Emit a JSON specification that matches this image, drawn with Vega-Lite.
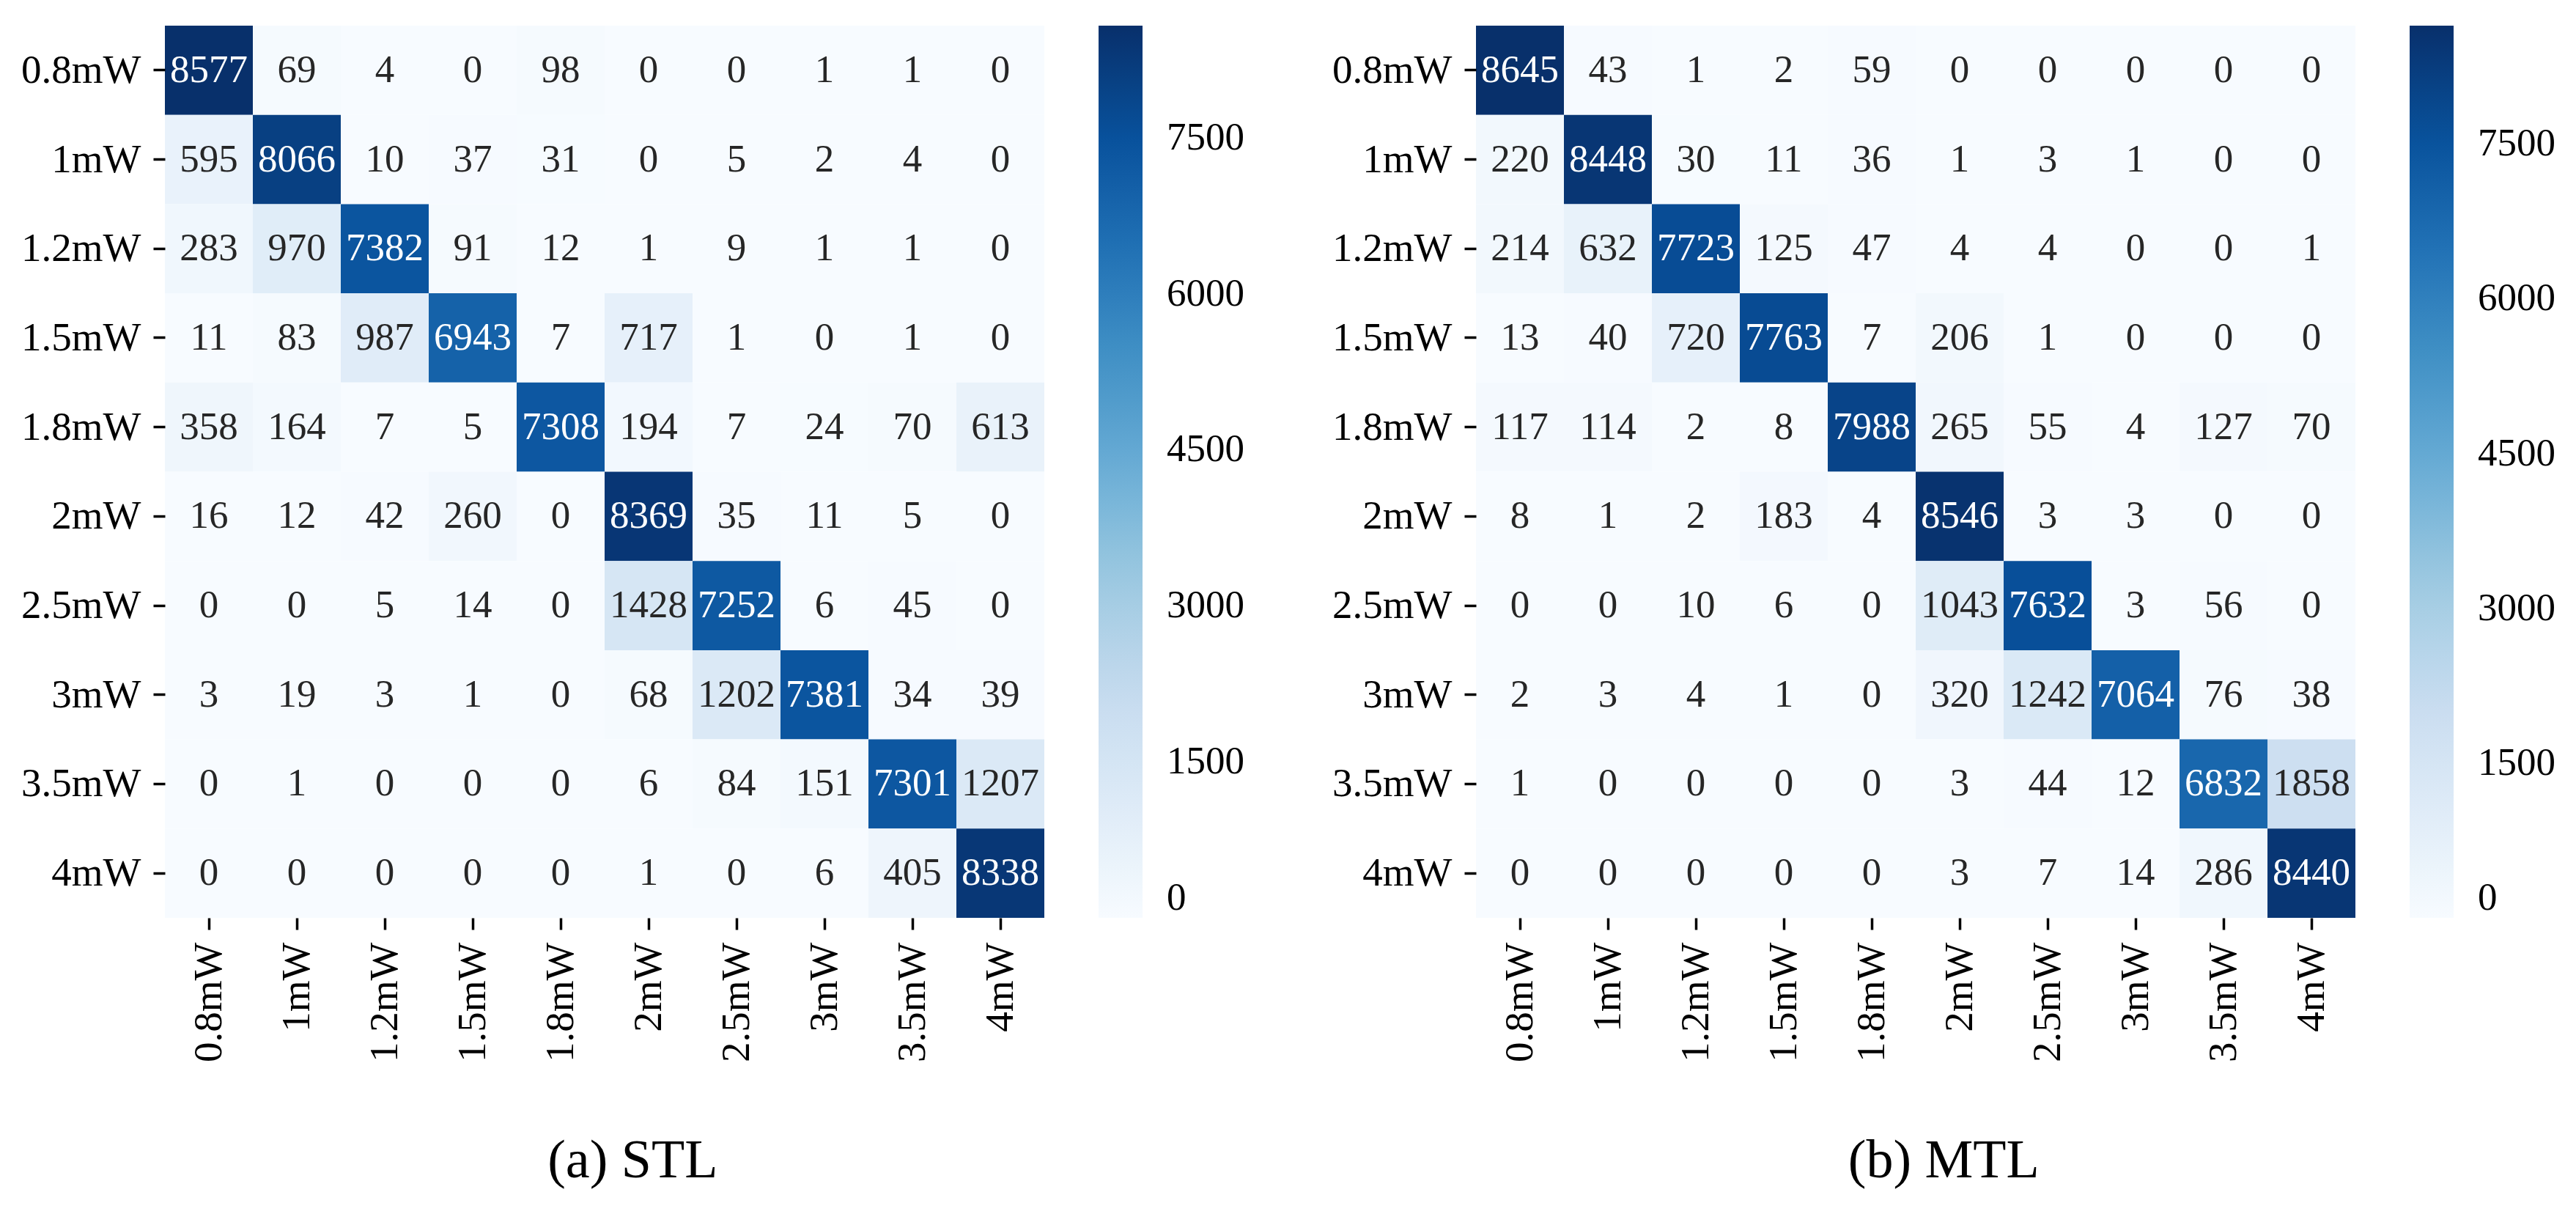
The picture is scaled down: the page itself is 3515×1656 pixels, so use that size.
{
  "$schema": "https://vega.github.io/schema/vega-lite/v6.json",
  "background": "white",
  "padding": {"left": 28, "top": 35, "right": 0, "bottom": 0},
  "autosize": {"type": "pad"},
  "spacing": 119,
  "resolve": {"scale": {"color": "independent"}},
  "config": {
    "view": {"stroke": null},
    "font": "Liberation Serif",
    "axis": {"labelFont": "Liberation Serif", "labelFontSize": 55, "labelColor": "black", "tickColor": "black", "tickSize": 16, "tickWidth": 3.5, "domain": false, "grid": false, "labelPadding": 17, "title": null},
    "legend": {"padding": 0}
  },
  "datasets": {
    "stl": [
      {"t":"0.8mW","p":"0.8mW","v":8577},{"t":"0.8mW","p":"1mW","v":69},{"t":"0.8mW","p":"1.2mW","v":4},{"t":"0.8mW","p":"1.5mW","v":0},{"t":"0.8mW","p":"1.8mW","v":98},{"t":"0.8mW","p":"2mW","v":0},{"t":"0.8mW","p":"2.5mW","v":0},{"t":"0.8mW","p":"3mW","v":1},{"t":"0.8mW","p":"3.5mW","v":1},{"t":"0.8mW","p":"4mW","v":0},
      {"t":"1mW","p":"0.8mW","v":595},{"t":"1mW","p":"1mW","v":8066},{"t":"1mW","p":"1.2mW","v":10},{"t":"1mW","p":"1.5mW","v":37},{"t":"1mW","p":"1.8mW","v":31},{"t":"1mW","p":"2mW","v":0},{"t":"1mW","p":"2.5mW","v":5},{"t":"1mW","p":"3mW","v":2},{"t":"1mW","p":"3.5mW","v":4},{"t":"1mW","p":"4mW","v":0},
      {"t":"1.2mW","p":"0.8mW","v":283},{"t":"1.2mW","p":"1mW","v":970},{"t":"1.2mW","p":"1.2mW","v":7382},{"t":"1.2mW","p":"1.5mW","v":91},{"t":"1.2mW","p":"1.8mW","v":12},{"t":"1.2mW","p":"2mW","v":1},{"t":"1.2mW","p":"2.5mW","v":9},{"t":"1.2mW","p":"3mW","v":1},{"t":"1.2mW","p":"3.5mW","v":1},{"t":"1.2mW","p":"4mW","v":0},
      {"t":"1.5mW","p":"0.8mW","v":11},{"t":"1.5mW","p":"1mW","v":83},{"t":"1.5mW","p":"1.2mW","v":987},{"t":"1.5mW","p":"1.5mW","v":6943},{"t":"1.5mW","p":"1.8mW","v":7},{"t":"1.5mW","p":"2mW","v":717},{"t":"1.5mW","p":"2.5mW","v":1},{"t":"1.5mW","p":"3mW","v":0},{"t":"1.5mW","p":"3.5mW","v":1},{"t":"1.5mW","p":"4mW","v":0},
      {"t":"1.8mW","p":"0.8mW","v":358},{"t":"1.8mW","p":"1mW","v":164},{"t":"1.8mW","p":"1.2mW","v":7},{"t":"1.8mW","p":"1.5mW","v":5},{"t":"1.8mW","p":"1.8mW","v":7308},{"t":"1.8mW","p":"2mW","v":194},{"t":"1.8mW","p":"2.5mW","v":7},{"t":"1.8mW","p":"3mW","v":24},{"t":"1.8mW","p":"3.5mW","v":70},{"t":"1.8mW","p":"4mW","v":613},
      {"t":"2mW","p":"0.8mW","v":16},{"t":"2mW","p":"1mW","v":12},{"t":"2mW","p":"1.2mW","v":42},{"t":"2mW","p":"1.5mW","v":260},{"t":"2mW","p":"1.8mW","v":0},{"t":"2mW","p":"2mW","v":8369},{"t":"2mW","p":"2.5mW","v":35},{"t":"2mW","p":"3mW","v":11},{"t":"2mW","p":"3.5mW","v":5},{"t":"2mW","p":"4mW","v":0},
      {"t":"2.5mW","p":"0.8mW","v":0},{"t":"2.5mW","p":"1mW","v":0},{"t":"2.5mW","p":"1.2mW","v":5},{"t":"2.5mW","p":"1.5mW","v":14},{"t":"2.5mW","p":"1.8mW","v":0},{"t":"2.5mW","p":"2mW","v":1428},{"t":"2.5mW","p":"2.5mW","v":7252},{"t":"2.5mW","p":"3mW","v":6},{"t":"2.5mW","p":"3.5mW","v":45},{"t":"2.5mW","p":"4mW","v":0},
      {"t":"3mW","p":"0.8mW","v":3},{"t":"3mW","p":"1mW","v":19},{"t":"3mW","p":"1.2mW","v":3},{"t":"3mW","p":"1.5mW","v":1},{"t":"3mW","p":"1.8mW","v":0},{"t":"3mW","p":"2mW","v":68},{"t":"3mW","p":"2.5mW","v":1202},{"t":"3mW","p":"3mW","v":7381},{"t":"3mW","p":"3.5mW","v":34},{"t":"3mW","p":"4mW","v":39},
      {"t":"3.5mW","p":"0.8mW","v":0},{"t":"3.5mW","p":"1mW","v":1},{"t":"3.5mW","p":"1.2mW","v":0},{"t":"3.5mW","p":"1.5mW","v":0},{"t":"3.5mW","p":"1.8mW","v":0},{"t":"3.5mW","p":"2mW","v":6},{"t":"3.5mW","p":"2.5mW","v":84},{"t":"3.5mW","p":"3mW","v":151},{"t":"3.5mW","p":"3.5mW","v":7301},{"t":"3.5mW","p":"4mW","v":1207},
      {"t":"4mW","p":"0.8mW","v":0},{"t":"4mW","p":"1mW","v":0},{"t":"4mW","p":"1.2mW","v":0},{"t":"4mW","p":"1.5mW","v":0},{"t":"4mW","p":"1.8mW","v":0},{"t":"4mW","p":"2mW","v":1},{"t":"4mW","p":"2.5mW","v":0},{"t":"4mW","p":"3mW","v":6},{"t":"4mW","p":"3.5mW","v":405},{"t":"4mW","p":"4mW","v":8338}
    ],
    "mtl": [
      {"t":"0.8mW","p":"0.8mW","v":8645},{"t":"0.8mW","p":"1mW","v":43},{"t":"0.8mW","p":"1.2mW","v":1},{"t":"0.8mW","p":"1.5mW","v":2},{"t":"0.8mW","p":"1.8mW","v":59},{"t":"0.8mW","p":"2mW","v":0},{"t":"0.8mW","p":"2.5mW","v":0},{"t":"0.8mW","p":"3mW","v":0},{"t":"0.8mW","p":"3.5mW","v":0},{"t":"0.8mW","p":"4mW","v":0},
      {"t":"1mW","p":"0.8mW","v":220},{"t":"1mW","p":"1mW","v":8448},{"t":"1mW","p":"1.2mW","v":30},{"t":"1mW","p":"1.5mW","v":11},{"t":"1mW","p":"1.8mW","v":36},{"t":"1mW","p":"2mW","v":1},{"t":"1mW","p":"2.5mW","v":3},{"t":"1mW","p":"3mW","v":1},{"t":"1mW","p":"3.5mW","v":0},{"t":"1mW","p":"4mW","v":0},
      {"t":"1.2mW","p":"0.8mW","v":214},{"t":"1.2mW","p":"1mW","v":632},{"t":"1.2mW","p":"1.2mW","v":7723},{"t":"1.2mW","p":"1.5mW","v":125},{"t":"1.2mW","p":"1.8mW","v":47},{"t":"1.2mW","p":"2mW","v":4},{"t":"1.2mW","p":"2.5mW","v":4},{"t":"1.2mW","p":"3mW","v":0},{"t":"1.2mW","p":"3.5mW","v":0},{"t":"1.2mW","p":"4mW","v":1},
      {"t":"1.5mW","p":"0.8mW","v":13},{"t":"1.5mW","p":"1mW","v":40},{"t":"1.5mW","p":"1.2mW","v":720},{"t":"1.5mW","p":"1.5mW","v":7763},{"t":"1.5mW","p":"1.8mW","v":7},{"t":"1.5mW","p":"2mW","v":206},{"t":"1.5mW","p":"2.5mW","v":1},{"t":"1.5mW","p":"3mW","v":0},{"t":"1.5mW","p":"3.5mW","v":0},{"t":"1.5mW","p":"4mW","v":0},
      {"t":"1.8mW","p":"0.8mW","v":117},{"t":"1.8mW","p":"1mW","v":114},{"t":"1.8mW","p":"1.2mW","v":2},{"t":"1.8mW","p":"1.5mW","v":8},{"t":"1.8mW","p":"1.8mW","v":7988},{"t":"1.8mW","p":"2mW","v":265},{"t":"1.8mW","p":"2.5mW","v":55},{"t":"1.8mW","p":"3mW","v":4},{"t":"1.8mW","p":"3.5mW","v":127},{"t":"1.8mW","p":"4mW","v":70},
      {"t":"2mW","p":"0.8mW","v":8},{"t":"2mW","p":"1mW","v":1},{"t":"2mW","p":"1.2mW","v":2},{"t":"2mW","p":"1.5mW","v":183},{"t":"2mW","p":"1.8mW","v":4},{"t":"2mW","p":"2mW","v":8546},{"t":"2mW","p":"2.5mW","v":3},{"t":"2mW","p":"3mW","v":3},{"t":"2mW","p":"3.5mW","v":0},{"t":"2mW","p":"4mW","v":0},
      {"t":"2.5mW","p":"0.8mW","v":0},{"t":"2.5mW","p":"1mW","v":0},{"t":"2.5mW","p":"1.2mW","v":10},{"t":"2.5mW","p":"1.5mW","v":6},{"t":"2.5mW","p":"1.8mW","v":0},{"t":"2.5mW","p":"2mW","v":1043},{"t":"2.5mW","p":"2.5mW","v":7632},{"t":"2.5mW","p":"3mW","v":3},{"t":"2.5mW","p":"3.5mW","v":56},{"t":"2.5mW","p":"4mW","v":0},
      {"t":"3mW","p":"0.8mW","v":2},{"t":"3mW","p":"1mW","v":3},{"t":"3mW","p":"1.2mW","v":4},{"t":"3mW","p":"1.5mW","v":1},{"t":"3mW","p":"1.8mW","v":0},{"t":"3mW","p":"2mW","v":320},{"t":"3mW","p":"2.5mW","v":1242},{"t":"3mW","p":"3mW","v":7064},{"t":"3mW","p":"3.5mW","v":76},{"t":"3mW","p":"4mW","v":38},
      {"t":"3.5mW","p":"0.8mW","v":1},{"t":"3.5mW","p":"1mW","v":0},{"t":"3.5mW","p":"1.2mW","v":0},{"t":"3.5mW","p":"1.5mW","v":0},{"t":"3.5mW","p":"1.8mW","v":0},{"t":"3.5mW","p":"2mW","v":3},{"t":"3.5mW","p":"2.5mW","v":44},{"t":"3.5mW","p":"3mW","v":12},{"t":"3.5mW","p":"3.5mW","v":6832},{"t":"3.5mW","p":"4mW","v":1858},
      {"t":"4mW","p":"0.8mW","v":0},{"t":"4mW","p":"1mW","v":0},{"t":"4mW","p":"1.2mW","v":0},{"t":"4mW","p":"1.5mW","v":0},{"t":"4mW","p":"1.8mW","v":0},{"t":"4mW","p":"2mW","v":3},{"t":"4mW","p":"2.5mW","v":7},{"t":"4mW","p":"3mW","v":14},{"t":"4mW","p":"3.5mW","v":286},{"t":"4mW","p":"4mW","v":8440}
    ]
  },
  "hconcat": [
    {
      "data": {"name": "stl"},
      "width": 1200,
      "height": 1217,
      "title": {"text": "(a) STL", "orient": "bottom", "anchor": "middle", "frame": "bounds", "offset": 100, "fontSize": 74, "fontWeight": "normal", "font": "Liberation Serif", "color": "black"},
      "encoding": {
        "x": {"field": "p", "type": "nominal", "sort": ["0.8mW","1mW","1.2mW","1.5mW","1.8mW","2mW","2.5mW","3mW","3.5mW","4mW"], "axis": {"labelAngle": -90, "title": null}},
        "y": {"field": "t", "type": "nominal", "sort": ["0.8mW","1mW","1.2mW","1.5mW","1.8mW","2mW","2.5mW","3mW","3.5mW","4mW"], "axis": {"title": null}}
      },
      "layer": [
        {
          "mark": {"type": "rect"},
          "encoding": {
            "color": {
              "field": "v", "type": "quantitative",
              "scale": {"domain": [0, 1072.125, 2144.25, 3216.375, 4288.5, 5360.625, 6432.75, 7504.875, 8577], "range": ["#f7fbff","#deebf7","#c6dbef","#9ecae1","#6baed6","#4292c6","#2171b5","#08519c","#08306b"], "interpolate": "rgb"},
              "legend": {"title": null, "orient": "right", "direction": "vertical", "values": [0,1500,3000,4500,6000,7500], "format": "d", "gradientLength": 1217, "gradientThickness": 60, "offset": 74, "labelOffset": 33, "labelFontSize": 53, "labelFont": "Liberation Serif", "labelColor": "black", "labelBaseline": "middle", "labelOverlap": false, "gradientStrokeWidth": 0, "padding": 0}
            }
          }
        },
        {
          "mark": {"type": "text", "fontSize": 53, "font": "Liberation Serif"},
          "encoding": {
            "text": {"field": "v", "type": "quantitative", "format": "d"},
            "color": {"condition": {"test": "datum.v > 4000", "value": "white"}, "value": "#262626"}
          }
        }
      ]
    },
    {
      "data": {"name": "mtl"},
      "width": 1200,
      "height": 1217,
      "title": {"text": "(b) MTL", "orient": "bottom", "anchor": "middle", "frame": "bounds", "offset": 100, "fontSize": 74, "fontWeight": "normal", "font": "Liberation Serif", "color": "black"},
      "encoding": {
        "x": {"field": "p", "type": "nominal", "sort": ["0.8mW","1mW","1.2mW","1.5mW","1.8mW","2mW","2.5mW","3mW","3.5mW","4mW"], "axis": {"labelAngle": -90, "title": null}},
        "y": {"field": "t", "type": "nominal", "sort": ["0.8mW","1mW","1.2mW","1.5mW","1.8mW","2mW","2.5mW","3mW","3.5mW","4mW"], "axis": {"title": null}}
      },
      "layer": [
        {
          "mark": {"type": "rect"},
          "encoding": {
            "color": {
              "field": "v", "type": "quantitative",
              "scale": {"domain": [0, 1080.625, 2161.25, 3241.875, 4322.5, 5403.125, 6483.75, 7564.375, 8645], "range": ["#f7fbff","#deebf7","#c6dbef","#9ecae1","#6baed6","#4292c6","#2171b5","#08519c","#08306b"], "interpolate": "rgb"},
              "legend": {"title": null, "orient": "right", "direction": "vertical", "values": [0,1500,3000,4500,6000,7500], "format": "d", "gradientLength": 1217, "gradientThickness": 60, "offset": 74, "labelOffset": 33, "labelFontSize": 53, "labelFont": "Liberation Serif", "labelColor": "black", "labelBaseline": "middle", "labelOverlap": false, "gradientStrokeWidth": 0, "padding": 0}
            }
          }
        },
        {
          "mark": {"type": "text", "fontSize": 53, "font": "Liberation Serif"},
          "encoding": {
            "text": {"field": "v", "type": "quantitative", "format": "d"},
            "color": {"condition": {"test": "datum.v > 4000", "value": "white"}, "value": "#262626"}
          }
        }
      ]
    }
  ]
}
